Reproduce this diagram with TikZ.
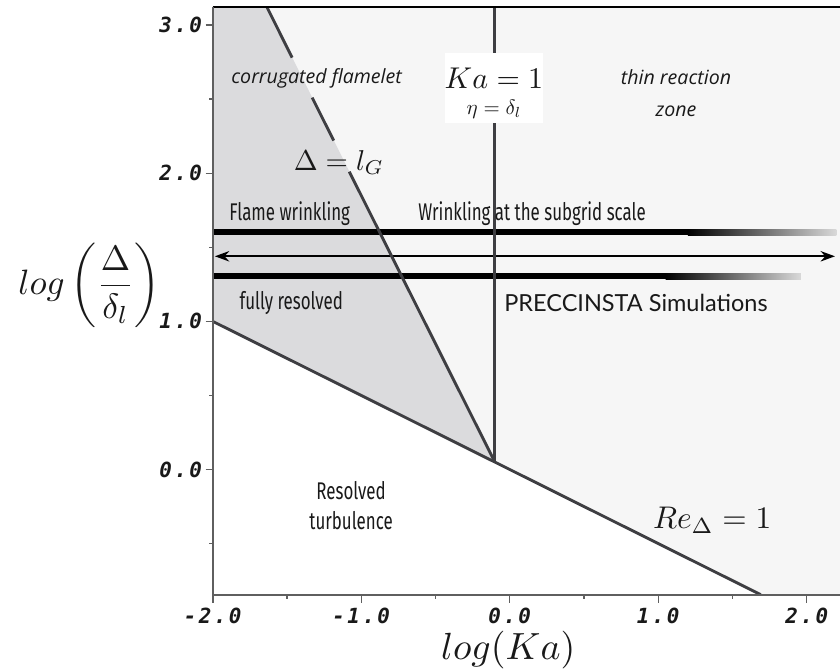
\documentclass[tikz,border=0pt]{standalone}
\usepackage{fontspec}
\usepackage{tikz}
\usetikzlibrary{arrows.meta}
\newfontfamily\italfont{Open Sans}
\newfontfamily\plainfont{Lato}
\newfontfamily\condfont[FakeStretch=0.7]{Fira Sans}
\newfontfamily\tickfont[LetterSpace=12]{DejaVu Sans Mono}
\definecolor{ink}{RGB}{25,25,25}
\definecolor{regline}{RGB}{62,62,66}
\definecolor{axisgray}{RGB}{95,95,95}
\definecolor{corrgray}{RGB}{219,219,221}
\definecolor{thinwhite}{RGB}{246,246,246}
\newcommand\bigmath[2]{\scalebox{#1}{$#2$}}
\tikzset{
  >={Stealth[length=11pt,width=8pt]},
  regime/.style={draw=regline,line width=2.2pt},
  axisline/.style={draw=axisgray,line width=1.4pt},
  mathlbl/.style={text=ink,inner sep=1pt},
  wrinkle/.style={font=\condfont\fontsize{18.5}{23}\selectfont,text=ink,inner sep=0pt},
  zonelbl/.style={font=\italfont\itshape\fontsize{15}{25}\selectfont,text=ink,align=center,inner sep=0pt},
  ticklbl/.style={font=\tickfont\bfseries\itshape\fontsize{16}{18}\selectfont,text=ink,inner sep=0pt},
  bar/.style={fill=black},
}

\begin{document}
\begin{tikzpicture}[x=4cm,y=3.99cm]
  \useasboundingbox (-3.432,-1.358) rectangle (2.224,3.169);
  \coordinate (J) at (-0.1,0.05);
  \coordinate (G) at (-1.634,3.12);
  \coordinate (K) at (-0.1,3.12);
  \coordinate (R0) at (-2,1);
  \coordinate (R1) at (1.69,-0.845);
  \coordinate (G1) at (-1.465,2.78);
  \coordinate (G2) at (-1.33,2.51);
  \coordinate (G3) at (-1.185,2.22);
  \coordinate (G4) at (-1.08,2.01);
  % regions
  \fill[thinwhite] (R0) -- (-2,3.12) -- (2.224,3.12) -- (2.224,-0.845) -- (R1) -- cycle;
  \fill[corrgray] (R0) -- (-2,3.12) -- (G) -- (J) -- cycle;
  % bars and arrow
  \fill[bar] (-2,1.581) rectangle (1.2,1.621);
  \shade[left color=black,right color=gray!30] (1.2,1.581) rectangle (2.2,1.621);
  \fill[bar] (-2,1.284) rectangle (1.05,1.324);
  \shade[left color=black,right color=gray!30] (1.05,1.284) rectangle (1.96,1.324);
  \coordinate (aL) at (-1.985,1.439);
  \coordinate (aR) at (2.19,1.439);
  \draw[<->,line width=1.4pt] (aL) -- (aR);
  % regime borders
  \draw[regime] (R0) -- (J) -- (R1);
  \draw[regime] (G) -- (G1);
  \draw[regime] (G2) -- (G3);
  \draw[regime] (G4) -- (J);
  \draw[regime] (K) -- (J);
  % axes
  \draw[black,line width=1.3pt] (-2,3.12) -- (2.224,3.12);
  \draw[axisline] (-2,3.12) -- (-2,-0.9);
  \draw[axisline] (-2,-0.845) -- (2.224,-0.845);
  \foreach \y in {0,1,2,3} {
    \draw[axisgray,line width=1pt] (-2.047,\y) -- (-2,\y);
    \node[ticklbl,anchor=east] (yt\y) at (-2.07,\y) {\y.0};
  }
  \foreach \y in {-0.5,0.5,1.5,2.5}
    \draw[axisgray,line width=1pt] (-2.022,\y) -- (-2,\y);
  \foreach \x/\t in {-2/-2.0,-1/-1.0,0/0.0,1/1.0,2/2.0} {
    \draw[axisgray,line width=1pt] (\x,-0.845) -- (\x,-0.9);
    \node[ticklbl] (xt\x) at (\x,-0.99) {\t};
  }
  \foreach \x in {-1.5,-0.5,0.5,1.5}
    \draw[axisgray,line width=1pt] (\x,-0.845) -- (\x,-0.875);
  % labels
  \node[zonelbl] (corr) at (-1.30,2.642) {corrugated flamelet};
  \node[zonelbl] (thin) at (1.12,2.54) {thin reaction\\zone};
  \node[fill=white,minimum width=0.66*4cm,minimum height=0.47*3.99cm,inner sep=0pt] (kabox) at (-0.106,2.575) {};
  \node[mathlbl] (ka) at (-0.106,2.64) {\bigmath{2.3}{Ka=1}};
  \node[mathlbl,inner sep=0pt] (eta) at (-0.106,2.43) {\bigmath{1.6}{\eta=\delta_l}};
  \node[mathlbl] (lg) at (-1.15,2.07) {\bigmath{2.2}{\Delta=l_G}};
  \node[wrinkle,anchor=west] (fw) at (-1.89,1.73) {Flame wrinkling};
  \node[wrinkle,anchor=west] (sgs) at (-0.617,1.73) {Wrinkling at the subgrid scale};
  \node[wrinkle,anchor=west] (fr) at (-1.82,1.122) {fully resolved};
  \node[font=\plainfont\fontsize{18}{20}\selectfont,text=ink,anchor=west,inner sep=0pt] (prec) at (-0.038,1.122) {PRECCINSTA Simulations};
  \node[wrinkle,align=center,anchor=east] (rt) at (-0.786,-0.243) {Resolved\\turbulence};
  \node[mathlbl] (re) at (1.363,-0.345) {\bigmath{2.4}{Re_\Delta=1}};
  \node[mathlbl,inner sep=0pt] (xlab) at (-0.01,-1.22) {\bigmath{2.9}{log(Ka)}};
  \node[mathlbl] (ylab) at (-2.83,1.243) {\bigmath{2.7}{\displaystyle log\left(\frac{\Delta}{\delta_l}\right)}};
\end{tikzpicture}
\end{document}
